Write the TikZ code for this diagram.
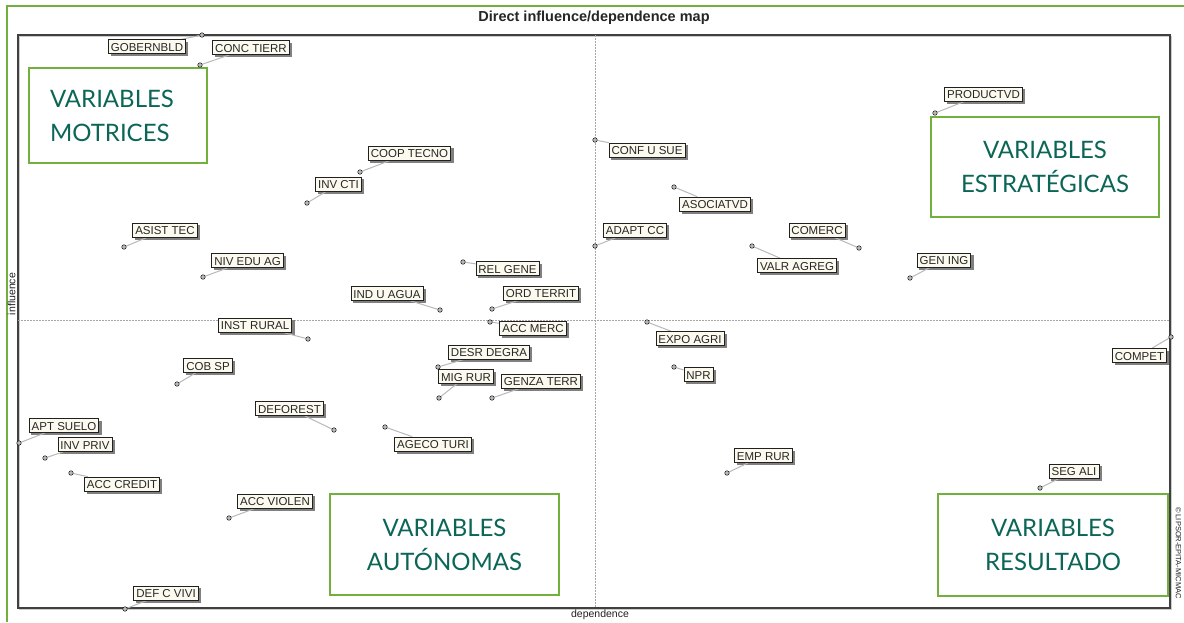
\documentclass[tikz,border=0pt]{standalone}
\usepackage{fontspec}
\setmainfont{Liberation Sans}
\newfontfamily\quadfont{Lato}
\pgfdeclarelayer{back}
\pgfdeclarelayer{shade}
\pgfsetlayers{back,shade,main}
\definecolor{frgreen}{HTML}{72B03E}
\definecolor{qtext}{HTML}{0C6657}
\definecolor{lblfill}{HTML}{FCFAEE}
\tikzset{
  lbl/.style={draw=gray!25!black, line width=0.7pt, fill=lblfill, text=black!85,
    font=\fontsize{11.5}{12}\selectfont, inner xsep=2.5pt, inner ysep=2.5pt,
    text height=9pt, text depth=0pt},
  lblshadow/.style={fill=black!50},
  mk/.style={circle, inner sep=0pt, minimum size=4.5pt, fill=gray!55, draw=gray!20!black, line width=0.5pt},
  lead/.style={gray!55, line width=1pt},
  axisline/.style={gray!70, line width=0.6pt, dash pattern=on 1.5pt off 1.5pt},
  quad/.style={draw=frgreen, line width=2pt, fill=white, text=qtext,
    font=\quadfont\fontsize{24}{34}\selectfont, inner sep=0pt}
}
\begin{document}
\begin{tikzpicture}[x=1pt,y=-1pt]
\useasboundingbox (0,0) rectangle (1184,622);
\begin{pgfonlayer}{back}
\fill[white] (0,0) rectangle (1184,622);
% outer green frame
\draw[frgreen, line width=2.5pt] (7,622) -- (7,6) -- (1184,6);
% plot frame
\draw[gray!40, line width=1.8pt] (19.5,36.5) rectangle (1171.5,609.5);
\draw[gray!50!black, line width=1.1pt] (18,35) rectangle (1170,608);
% axes
\draw[axisline] (595,35) -- (595,608);
\draw[axisline] (18,320) -- (1170,320);
\end{pgfonlayer}
% title
\node[font=\bfseries\fontsize{14.5}{15}\selectfont, text=black!85] (title) at (594,17.5) {Direct influence/dependence map};
% axis labels
\node[rotate=90, font=\fontsize{10.5}{11}\selectfont, text=gray!25!black] (infl) at (11.5,294) {influence};
\node[font=\fontsize{10.5}{11}\selectfont, text=gray!25!black] (dep) at (600,615) {dependence};
\node[rotate=-90, font=\fontsize{7.5}{8}\selectfont, text=gray!25!black] (copy) at (1178.5,553) {© LIPSOR-EPITA-MICMAC};
% quadrant boxes
\node[quad, minimum width=178pt, minimum height=95pt, text width=136pt, align=left] (qmot) at (118,115.5) {VARIABLES\\MOTRICES};
\node[quad, minimum width=228pt, minimum height=100pt, align=center] (qest) at (1045,167) {VARIABLES\\ESTRATÉGICAS};
\node[quad, minimum width=229pt, minimum height=101pt, align=center] (qaut) at (444.5,544.5) {VARIABLES\\AUTÓNOMAS};
\node[quad, minimum width=230pt, minimum height=102pt, align=center] (qres) at (1053,545) {VARIABLES\\RESULTADO};
% variables
\foreach \i/\lx/\ly/\mx/\my/\txt in {
 1/147/46.5/202/35/GOBERNBLD,
 2/251/47.5/200/65/CONC TIERR,
 3/409.5/153/360/172/COOP TECNO,
 4/338.5/184/307/203/INV CTI,
 5/647/150/595/140/CONF U SUE,
 6/715/204/674/187/ASOCIATVD,
 7/983.5/94/935/113/PRODUCTVD,
 8/635/230/595/246/ADAPT CC,
 9/817/230/859/248/COMERC,
 10/797/265.5/752/246/VALR AGREG,
 11/944/260/910/278/GEN ING,
 12/165/230/124/247/ASIST TEC,
 13/247.5/260.5/203/277/NIV EDU AG,
 14/507.5/268.5/463/262/REL GENE,
 15/387/293.5/440/310/IND U AGUA,
 16/541/293/492/309/ORD TERRIT,
 17/533/328/490/322/ACC MERC,
 18/255/325/308/339/INST RURAL,
 19/690/338.5/647/322/EXPO AGRI,
 20/1139.5/355.5/1171/337/COMPET,
 21/489/352/438/367/DESR DEGRA,
 22/466/376.5/439/398/MIG RUR,
 23/541/381/492/398/GENZA TERR,
 24/208/365.5/177/384/COB SP,
 25/698.5/374.5/674/367/NPR,
 26/289.5/408.5/334/430/DEFOREST,
 27/433/444/385/427/AGECO TURI,
 28/64/425.5/19/443/APT SUELO,
 29/85/444.5/45/458/INV PRIV,
 30/122/484/71/473/ACC CREDIT,
 31/275/501/229/518/ACC VIOLEN,
 32/166/593/125/609/DEF C VIVI,
 33/763.5/455.5/727/473/EMP RUR,
 34/1074/471/1040/488/SEG ALI}
{
  \node[lbl] (l\i) at (\lx,\ly) {\txt};
  \node[mk] (m\i) at (\mx,\my) {};
  \begin{pgfonlayer}{shade}
    \fill[lblshadow] ([xshift=2.5pt,yshift=-2.5pt]l\i.south west) rectangle ([xshift=2.5pt,yshift=-2.5pt]l\i.north east);
    \draw[lead] (m\i) -- (l\i);
  \end{pgfonlayer}
}
\end{tikzpicture}
\end{document}
